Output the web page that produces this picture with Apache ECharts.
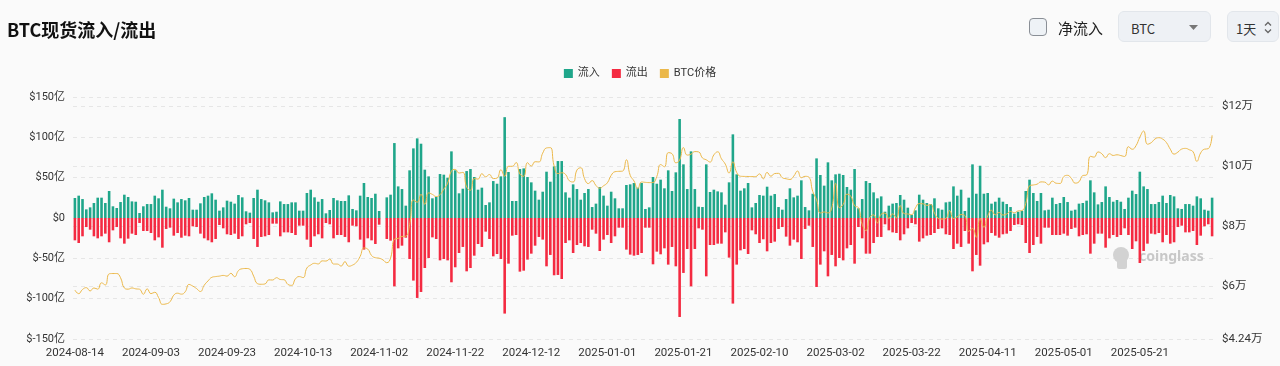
<!DOCTYPE html>
<html>
<head>
<meta charset="utf-8">
<script src="https://cdn.jsdelivr.net/npm/echarts@6/dist/echarts.min.js"></script>
<style>
  html, body { margin: 0; padding: 0; background: #fafafa; }
  body { width: 1280px; height: 366px; position: relative; overflow: hidden;
         font-family: Roboto, 'Noto Sans CJK SC', sans-serif; }
  #chart { position: absolute; left: 0; top: 0; width: 1280px; height: 366px; }
  .title { position: absolute; left: 7px; top: 16px; font-size: 18px; font-weight: 700; color: #111;
           font-family: 'Noto Sans CJK SC', sans-serif; z-index: 2; }
  .chk { position: absolute; left: 1029px; top: 18px; width: 16px; height: 16px; border: 1.5px solid #8a8f96;
         border-radius: 4px; background: #eef2f6; z-index: 2; }
  .chklbl { position: absolute; left: 1058px; top: 17px; font-size: 15px; color: #222; z-index: 2;
            font-family: 'Noto Sans CJK SC', sans-serif; }
  .sel { position: absolute; top: 11px; height: 31px; background: #eef1f5; border: 1px solid #e2e6eb;
         border-radius: 6px; z-index: 2; box-sizing: border-box; }
  .sel span { position: absolute; top: 7px; font-size: 13px; color: #333; font-family: 'Noto Sans CJK SC', Roboto, sans-serif; }
</style>
</head>
<body>
<div id="chart"></div>
<div class="title">BTC现货流入/流出</div>
<div class="chk"></div>
<div class="chklbl">净流入</div>
<div class="sel" style="left:1118px;width:93px;">
  <span style="left:12px;">BTC</span>
  <svg style="position:absolute;left:70px;top:13px" width="9" height="5"><polygon points="0,0 9,0 4.5,5" fill="#777"/></svg>
</div>
<div class="sel" style="left:1227px;width:52px;">
  <span style="left:8px;">1天</span>
  <svg style="position:absolute;left:36px;top:9px" width="8" height="13"><polyline points="1,4.5 4,1.5 7,4.5" fill="none" stroke="#666" stroke-width="1.3"/><polyline points="1,8.5 4,11.5 7,8.5" fill="none" stroke="#666" stroke-width="1.3"/></svg>
</div>
<script>
// ---- data ----
const startDate = '2024-08-14';
const dayCount = 300;

// inflow, 亿 USD
const inflow = [
24.8,27.7,23.5,10.7,13.2,18.6,25.2,25.2,18.6,33.5,14.5,12.4,19.8,28.9,26,20.6,20.2,6.2,14.5,17.3,17.3,27.7,24.4,35.1,14,12,24,19.4,23.5,21.9,24.8,
10.3,10.3,18.2,26,27.7,30.6,22.7,9.1,13.2,21.5,20.2,17.8,28.5,25.6,8.3,6.6,24.8,35.1,23.5,21.9,19.4,7,7.8,20.6,17.3,17.3,19.4,19.4,9.1,9.1,31,35.1,25.6,20.2,23.5,5.8,9.9,24.8,21.9,21.1,21.1,28.1,
11.2,9.5,27.7,43.4,26,24.8,30.1,8.7,0,25.6,28.9,92.9,39.2,35.9,15.3,59.1,86.3,98.7,92.1,59.9,51.6,24.4,26,54.5,53.7,50,82.6,59.1,30.6,36.3,58.2,60.7,50.8,35.1,37.6,16.1,19.4,45.8,42.5,51.6,125,57,
21.1,21.1,60.7,61.5,50.8,44.2,33.9,22.7,32.6,57.4,45,64,70.6,70.6,31.8,25.2,41.7,35.9,22.7,31,35.9,13.6,17.8,38.4,27.7,15.3,32.6,24.4,12,12,40.9,41.7,43.4,37.6,43.4,11.2,13.2,50.8,42.5,47.5,36.8,59.1,
33.5,56.6,122.7,66.5,35.9,82.6,35.9,14,13.6,66.5,32.2,35.1,33,31.8,16.5,44.2,103.7,54.1,33.9,36.8,43.4,13.2,18.6,28.5,27.7,38.8,27.7,29.7,13.6,10.3,23.5,36.8,25.6,27.7,46.7,13.6,9.5,30.1,73.9,53.3,40.1,69,46.7,54.1,54.9,
53.3,38.4,35.1,60.7,12,23.5,45.8,43.4,31.8,24.4,26.8,7.8,15.3,17.8,18.6,28.5,22.7,12.8,3.7,9.5,28.9,22.7,18.6,17.3,24.4,12,10.3,19.4,20.2,39.2,27.7,35.1,8.7,25.2,66.5,30.1,64.8,30.1,31,17.8,20.2,25.2,
20.2,17.3,13.6,5.4,7.8,8.7,33.5,47.5,31,21.1,31,9.5,10.3,25.2,17.3,18.6,26,19.8,9.1,10.3,17.8,18.6,21.5,46.7,31.8,16.9,19.8,39.2,26,20.2,22.3,20.2,11.2,25.2,33.9,29.7,57.4,39.2,35.9,17.3,17.3,19.8,
27.7,18.6,28.5,26.8,12,11.2,17.3,17.3,15.3,26.8,24.4,10.3,9.1,25.2
];

// outflow magnitude, 亿 USD (drawn negative)
const outflow = [
27.7,31,22.7,11.2,14.5,22.7,25.2,22.7,19.4,30.1,15.3,11.2,25.2,31.8,25.6,19.4,21.1,6.2,16.1,16.1,18.6,27.7,24,36.8,13.6,12,21.9,18.6,24.4,21.9,22.7,
10.3,11.2,19.4,25.2,27.7,30.1,26,8.7,12.8,20.2,21.1,19.4,26,22.7,7.8,6.2,26,35.9,23.5,22.7,21.1,7,7,22.7,17.8,17.8,18.6,21.1,9.5,9.5,26.8,35.9,22.7,20.2,25.2,6.2,7.8,25.2,21.1,21.1,23.5,30.1,
9.5,10.3,26.8,39.2,25.2,27.7,32.2,8.3,0,26,28.1,84.7,37.6,34.3,24.4,50.8,77.6,99.1,91.7,62,49.6,24,26,52.5,50.8,52.5,79.7,61.1,43.4,35.9,66.1,62,46.7,32.2,35.9,16.9,26,47.5,44.6,50.8,118.5,56.6,
21.9,21.1,66.5,65.3,51.6,44.2,34.3,23.5,26.8,59.9,45.8,71,70.6,75.6,31,27.7,43.4,33.5,31,35.1,35.9,14.5,19.4,40.9,26.8,21.1,31,22.7,12,12,39.2,45.4,46.7,45.8,43.4,12,12,57.4,41.7,45,37.6,57.8,
35.9,59.9,122.7,68.1,38.4,84.7,38.4,12.8,14.5,72.3,33.5,33.5,31.8,31.8,17.8,49.1,106.1,57.8,40.1,38.4,44.6,15.3,20.2,31,26.4,41.3,31,29.3,13.6,11.2,23.1,34.3,26.8,30.1,50.8,13.6,9.5,35.9,85.5,57.8,41.3,72.3,45.8,59.9,49.6,
52.5,37.6,33.5,56.6,11.2,25.2,44.2,44.2,31,23.5,23.5,7.8,15.3,17.8,18.6,27.7,20.2,12.8,6.2,7.8,29.3,25.2,21.9,21.1,18.6,13.6,12.8,20.2,21.1,38.4,31.8,35.9,16.1,31.8,66.1,45.8,59.1,32.6,30.1,18.6,21.9,24.4,
20.2,19.4,16.1,8.7,7.8,8.7,31,43.4,33.5,23.5,31.8,12,12,21.1,21.1,21.1,19.4,21.9,13.6,12,22.7,21.1,20.2,44.2,31.8,19.4,19.4,36.8,25.2,21.1,23.5,21.1,12.8,21.1,38.4,28.9,55.8,40.9,31.8,19.4,20.2,18.6,
30.1,21.1,31.8,30.1,11.2,9.5,17.8,17.8,16.1,33.5,21.9,10.3,7.8,22.7
];

// BTC price, USD
const price = [
58700,57500,58900,59500,58400,59400,59000,61100,60400,64100,64200,64200,62800,59400,59000,59400,59100,58970,
57300,59100,57500,57970,56200,53950,54100,54800,57000,57650,57340,58130,60570,60010,59180,58210,60300,61750,62940,63190,63350,63580,63340,64270,63140,65180,65790,65890,65600,63330,
60840,60630,60750,62090,62050,62820,62220,62130,60580,60270,62450,63190,62850,66050,67040,67610,67400,68420,68360,69000,67370,67360,66680,68160,66640,67010,67930,69910,72720,72340,70210,
69480,69310,68740,67810,69360,75640,75900,76540,76650,80470,88700,87960,90580,87250,91070,90560,89850,90460,92310,94290,98320,98890,97670,97900,93010,91960,95860,95640,97460,96410,
97190,95840,96000,98770,96590,99920,99920,101170,97350,96590,101130,100000,101450,101370,104300,106030,106140,100040,97490,97760,97220,95100,94690,98680,99430,95790,94160,95160,93530,92640,93430,
94420,96890,98110,98240,98320,102080,96920,95040,92480,94700,94570,94490,94520,96530,100500,99760,104460,104110,101090,102020,106150,103650,103960,104820,104710,102680,102090,101330,103730,104740,102410,
100650,97690,101410,97870,96620,96550,96530,96480,96500,97400,95750,97870,96620,97510,97570,96120,95770,95540,96640,98330,96120,96580,96270,91550,88740,84350,84700,84370,
86030,94250,86120,87220,90620,89960,86740,86150,80600,78530,82860,83720,81070,83970,84340,82580,84080,82720,86850,84170,84040,83830,86050,87500,87420,86900,87190,84350,82600,82340,82550,
85160,82520,83100,83840,83500,78210,79240,76270,82570,79630,83400,85290,83740,84540,83670,84030,84900,84450,85060,85170,87520,93440,93700,93980,94720,94650,93750,94980,94280,94210,
96490,96910,95890,94320,94750,96830,97030,103240,102970,104700,104110,102810,104110,103540,103750,103490,103190,106450,105590,106800,109640,111670,107280,107790,109030,109440,108990,107800,105640,103980,104640,
105650,105880,105430,104730,101580,104390,105620,105790,110260
];

const leftTicks = { min: -150, max: 150, step: 50 };
const rightRange = { min: 42400, max: 123000 };

// ---- categories ----
const dates = [];
{
  const d0 = new Date(startDate + 'T00:00:00Z');
  for (let i = 0; i < dayCount; i++) {
    const d = new Date(d0.getTime() + i * 86400000);
    dates.push(d.toISOString().slice(0, 10));
  }
}

const FONT = "Roboto, 'Noto Sans CJK SC', sans-serif";
const GREEN = '#1fa68a', RED = '#f42a41', GOLD = '#ebb84a';
const labelStyle = { color: '#333', fontSize: 11.5, fontFamily: FONT };

const chart = echarts.init(document.getElementById('chart'), null, { renderer: 'canvas' });
chart.setOption({
  animation: false,
  backgroundColor: 'transparent',
  legend: {
    top: 63, left: 'center',
    itemWidth: 9, itemHeight: 9, itemGap: 12,
    icon: 'rect',
    textStyle: { color: '#333', fontSize: 11, fontFamily: FONT },
    data: ['流入', '流出', 'BTC价格']
  },
  grid: { left: 73, right: 66, top: 97, bottom: 27, containLabel: false },
  xAxis: {
    type: 'category',
    data: dates,
    boundaryGap: true,
    axisLine: { show: false },
    axisTick: { show: false },
    axisLabel: Object.assign({ interval: 19, margin: 8 }, labelStyle),
    splitLine: { show: false }
  },
  yAxis: [
    {
      type: 'value',
      min: leftTicks.min, max: leftTicks.max, interval: leftTicks.step,
      axisLine: { show: false }, axisTick: { show: false },
      axisLabel: Object.assign({ margin: 8, formatter: v => v === 0 ? '$0' : '$' + v + '亿' }, labelStyle, { fontSize: 11 }),
      splitLine: { show: true, lineStyle: { color: '#e6e6e6', type: [4, 4], width: 1 } }
    },
    {
      type: 'value',
      min: rightRange.min, max: rightRange.max,
      position: 'right',
      axisLine: { show: false }, axisTick: { show: false },
      axisLabel: Object.assign({ margin: 8, showMaxLabel: false, showMinLabel: true,
        formatter: v => '$' + (+(v / 10000).toFixed(2)) + '万' }, labelStyle),
      splitLine: { show: true, lineStyle: { color: '#e6e6e6', type: [4, 4], width: 1 } }
    }
  ],
  graphic: [
    { type: 'circle', left: 1113, top: 247, shape: { r: 8 }, style: { fill: '#d2d2d2' }, z: 1 },
    { type: 'rect', left: 1117, top: 258, shape: { width: 10, height: 11, r: 2 }, style: { fill: '#d2d2d2' }, z: 1 },
    { type: 'text', left: 1139, top: 250, style: { text: 'coinglass', fill: '#c8c8c8', font: "bold 14px 'Noto Sans', sans-serif" }, z: 1 }
  ],
  series: [
    {
      name: '流入', type: 'bar', stack: 'flow', yAxisIndex: 0,
      data: inflow, barWidth: '68%',
      itemStyle: { color: GREEN }
    },
    {
      name: '流出', type: 'bar', stack: 'flow', yAxisIndex: 0,
      data: outflow.map(v => -v), barWidth: '68%',
      itemStyle: { color: RED }
    },
    {
      name: 'BTC价格', type: 'line', yAxisIndex: 1,
      data: price, smooth: true, showSymbol: false, symbol: 'none',
      lineStyle: { color: GOLD, width: 1 },
      itemStyle: { color: GOLD },
      z: 5
    }
  ]
});
</script>
</body>
</html>
